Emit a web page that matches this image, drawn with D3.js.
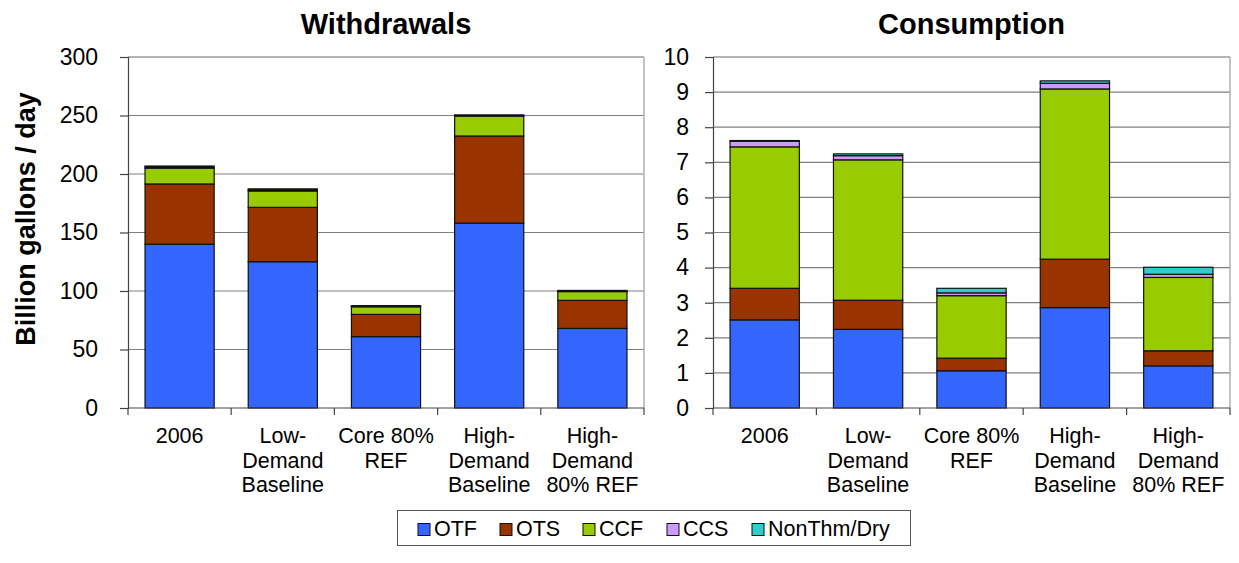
<!DOCTYPE html>
<html>
<head>
<meta charset="utf-8">
<script src="https://cdn.jsdelivr.net/npm/d3@7"></script>
<style>
  html, body { margin: 0; padding: 0; background: #fff; }
  svg { display: block; font-family: "Liberation Sans", Arial, sans-serif; }
</style>
</head>
<body>
<svg id="chart" width="1239" height="563"></svg>
<script>
// ---------- data ----------
const categories = ["2006", "Low-Demand Baseline", "Core 80% REF", "High-Demand Baseline", "High-Demand 80% REF"];
const categoryLines = [["2006"], ["Low-", "Demand", "Baseline"], ["Core 80%", "REF"], ["High-", "Demand", "Baseline"], ["High-", "Demand", "80% REF"]];
const seriesNames = ["OTF", "OTS", "CCF", "CCS", "NonThm/Dry"];

const withdrawalsOTF = [140, 125, 61, 158, 68];
const withdrawalsOTS = [51.5, 46.5, 19, 74.5, 24];
const withdrawalsCCF = [13.5, 14, 6.5, 17, 7.5];
const withdrawalsCCS = [1, 1, 0.5, 0.5, 0.5];
const withdrawalsNonThm = [0.8, 0.8, 0.5, 0.5, 0.5];

const consumptionOTF = [2.51, 2.24, 1.06, 2.86, 1.2];
const consumptionOTS = [0.9, 0.83, 0.36, 1.38, 0.43];
const consumptionCCF = [4.03, 4.0, 1.78, 4.85, 2.09];
const consumptionCCS = [0.16, 0.12, 0.08, 0.16, 0.09];
const consumptionNonThm = [0.02, 0.05, 0.13, 0.07, 0.2];

const withdrawalTicks = [0, 50, 100, 150, 200, 250, 300];
const consumptionTicks = [0, 1, 2, 3, 4, 5, 6, 7, 8, 9, 10];

const colors = ["#3366FF", "#993300", "#99CC00", "#CC99FF", "#33CCCC"];

// ---------- helpers ----------
function buildRows(arrs) {
  return categories.map((c, i) => {
    const row = { cat: c };
    seriesNames.forEach((s, j) => row[s] = arrs[j][i]);
    return row;
  });
}

const svg = d3.select("#chart");

function drawPanel(opts) {
  const { left, right, top, bottom, title, rows, ticks, maxY, tickLabelGap } = opts;
  const g = svg.append("g");
  const x = d3.scaleBand().domain(categories).range([left, right]).paddingInner(0.33).paddingOuter(0.165);
  const y = d3.scaleLinear().domain([0, maxY]).range([bottom, top]);

  // grid lines
  g.selectAll("line.grid").data(ticks.filter(t => t > 0)).enter().append("line")
    .attr("x1", left).attr("x2", right)
    .attr("y1", d => y(d)).attr("y2", d => y(d))
    .attr("stroke", "#808080").attr("stroke-width", 1.2);

  // frame (top/right light gray)
  g.append("line").attr("x1", left).attr("x2", right).attr("y1", top).attr("y2", top)
    .attr("stroke", "#b0b0b0").attr("stroke-width", 1.5);
  g.append("line").attr("x1", right).attr("x2", right).attr("y1", top).attr("y2", bottom)
    .attr("stroke", "#b0b0b0").attr("stroke-width", 1.5);

  // stacked bars
  const stack = d3.stack().keys(seriesNames)(rows);
  stack.forEach((layer, li) => {
    g.append("g").selectAll("rect").data(layer).enter().append("rect")
      .attr("x", d => x(d.data.cat))
      .attr("width", x.bandwidth())
      .attr("y", d => y(d[1]))
      .attr("height", d => Math.max(0, y(d[0]) - y(d[1])))
      .attr("fill", colors[li])
      .attr("stroke", "#111")
      .attr("stroke-width", 1.2);
  });

  // y axis
  const yAxis = d3.axisLeft(y).tickValues(ticks).tickSize(8).tickPadding(tickLabelGap).tickFormat(d3.format("d"));
  const ya = g.append("g").attr("transform", `translate(${left},0)`).call(yAxis);
  ya.select(".domain").attr("stroke", "#444").attr("stroke-width", 1.2);
  ya.selectAll(".tick line").attr("stroke", "#444").attr("stroke-width", 1.2);
  ya.selectAll(".tick text").attr("font-size", 23).attr("fill", "#000")
    .attr("font-family", "Liberation Sans, Arial, sans-serif");

  // x axis baseline
  g.append("line").attr("x1", left).attr("x2", right).attr("y1", bottom).attr("y2", bottom)
    .attr("stroke", "#444").attr("stroke-width", 1.2);
  // category boundary ticks
  const step = x.step();
  const bounds = d3.range(categories.length + 1).map(i => left + i * step);
  g.selectAll("line.ctick").data(bounds).enter().append("line")
    .attr("x1", d => d).attr("x2", d => d)
    .attr("y1", bottom).attr("y2", bottom + 7)
    .attr("stroke", "#444").attr("stroke-width", 1.2);

  // category labels
  categories.forEach((c, i) => {
    const cx = x(c) + x.bandwidth() / 2;
    const t = g.append("text").attr("text-anchor", "middle").attr("font-size", 21.5).attr("fill", "#000");
    categoryLines[i].forEach((ln, k) => {
      t.append("tspan").attr("x", cx).attr("y", bottom + 35 + k * 24.5).text(ln);
    });
  });

  // title
  g.append("text").attr("x", (left + right) / 2).attr("y", 34)
    .attr("text-anchor", "middle").attr("font-size", 29).attr("font-weight", "bold")
    .attr("font-family", "Liberation Sans, Arial, sans-serif")
    .text(title);
}

drawPanel({
  left: 128, right: 644, top: 57, bottom: 408,
  title: "Withdrawals",
  rows: buildRows([withdrawalsOTF, withdrawalsOTS, withdrawalsCCF, withdrawalsCCS, withdrawalsNonThm]),
  ticks: withdrawalTicks, maxY: 300, tickLabelGap: 22
});

drawPanel({
  left: 713, right: 1230, top: 57, bottom: 408,
  title: "Consumption",
  rows: buildRows([consumptionOTF, consumptionOTS, consumptionCCF, consumptionCCS, consumptionNonThm]),
  ticks: consumptionTicks, maxY: 10, tickLabelGap: 16
});

// y axis title
svg.append("text")
  .attr("transform", "translate(35,219) rotate(-90)")
  .attr("text-anchor", "middle").attr("font-size", 27).attr("font-weight", "bold")
  .text("Billion gallons / day");

// legend
const legend = svg.append("g");
legend.append("rect").attr("x", 397.5).attr("y", 510.5).attr("width", 513).attr("height", 35)
  .attr("fill", "#fff").attr("stroke", "#555").attr("stroke-width", 1);
const legendX = [418, 500, 583, 667, 752];
seriesNames.forEach((s, i) => {
  legend.append("rect").attr("x", legendX[i]).attr("y", 523.5).attr("width", 12).attr("height", 12)
    .attr("fill", colors[i]).attr("stroke", "#111").attr("stroke-width", 1);
  legend.append("text").attr("x", legendX[i] + 16).attr("y", 536).attr("font-size", 21.5).text(s);
});
</script>
</body>
</html>
